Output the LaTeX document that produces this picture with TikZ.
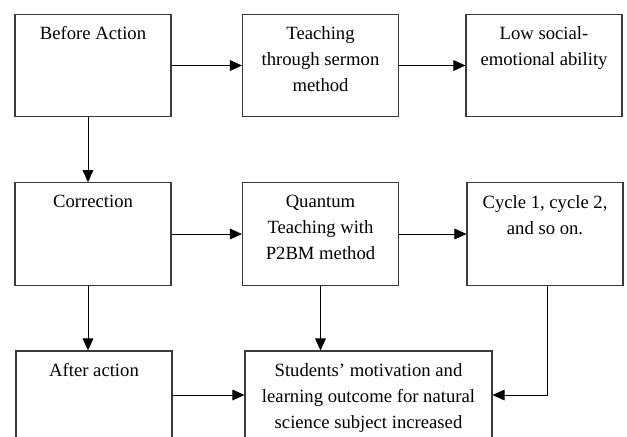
\documentclass[tikz,border=0pt]{standalone}
\usepackage{fontspec}
\setmainfont{Liberation Serif}
\usetikzlibrary{arrows.meta}
\definecolor{edge}{HTML}{3A3A3A}

\begin{document}
\begin{tikzpicture}[x=0.75pt,y=-0.75pt,
  stagebox/.style={draw=edge,line width=0.8pt,minimum width=117pt,minimum height=77pt,inner sep=0pt},
  txt/.style={anchor=north,align=center,inner sep=0pt,yshift=-9.5pt,
    font=\fontsize{14}{19.5}\selectfont},
  flow/.style={-{Triangle[length=9pt,width=8pt]},draw=black,line width=0.75pt}]
  \useasboundingbox (0,0) rectangle (627,436);
  \clip (0,0) rectangle (627,436);
  % row 1
  \node[stagebox,label={[txt]north:Before Action}] (b1) at (93,65.5) {};
  \node[stagebox,label={[txt]north:Teaching\\through sermon\\method}] (b2) at (320.5,65.5) {};
  \node[stagebox,label={[txt]north:Low social-\\emotional ability}] (b3) at (544,65.5) {};
  % row 2
  \node[stagebox,label={[txt]north:Correction}] (b4) at (93,234) {};
  \node[stagebox,label={[txt]north:Quantum\\Teaching with\\P2BM method}] (b5) at (320.5,234) {};
  \node[stagebox,label={[txt]north:Cycle 1, cycle 2,\\and so on.}] (b6) at (545,234) {};
  % row 3
  \node[stagebox,minimum height=66pt,label={[txt]north:After action}] (b7) at (94,395) {};
  \node[stagebox,minimum height=66pt,minimum width=185.25pt,
    label={[txt]north:Students' motivation and\\learning outcome for natural\\science subject increased}] (b8) at (368.5,395) {};
  % connectors
  \foreach \a/\b in {b1/b2,b2/b3,b4/b5,b5/b6,b7/b8} {\draw[flow] (\a)--(\b);}
  \draw[flow] ([xshift=-3.75pt]b1.south)--([xshift=-3.75pt]b1.south |- b4.north);
  \draw[flow] ([xshift=-3.75pt]b4.south)--([xshift=-3.75pt]b4.south |- b7.north);
  \draw[flow] (b5.south)--(b5.south |- b8.north);
  \draw[flow] ([xshift=1.5pt]b6.south) |- (b8.east);
\end{tikzpicture}
\end{document}
